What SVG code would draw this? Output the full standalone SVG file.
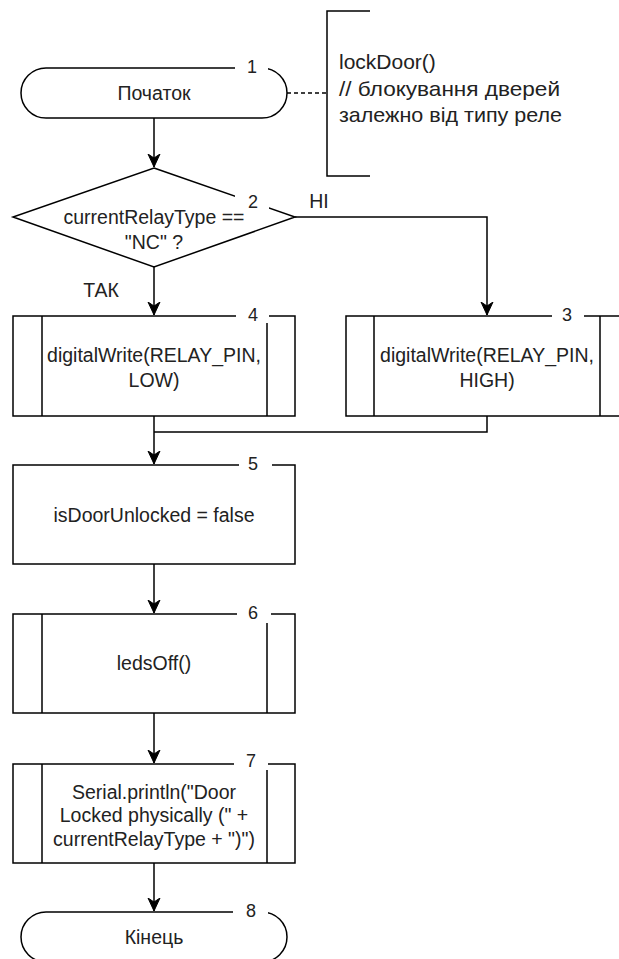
<svg xmlns="http://www.w3.org/2000/svg" width="619" height="959" viewBox="0 0 619 959">
<style>
.s{fill:#fff;stroke:#000;stroke-width:1.5}
.l{fill:none;stroke:#000;stroke-width:1.5}
.t{font-family:"Liberation Sans",Arial,sans-serif;font-size:19.5px;fill:#222;text-anchor:middle}
.a{font-family:"Liberation Sans",Arial,sans-serif;font-size:21px;fill:#222}
.n{font-family:"Liberation Sans",Arial,sans-serif;font-size:18px;fill:#222;text-anchor:middle}
.g{fill:#fff;stroke:none}
</style>
<defs>
<marker id="ar" viewBox="0 0 14 14" refX="13" refY="7" markerWidth="14" markerHeight="14" markerUnits="userSpaceOnUse" orient="auto">
<path d="M0,1 L13,7 L0,13 L4,7 Z" fill="#000" stroke="#000" stroke-width="1"/>
</marker>
</defs>
<rect width="619" height="959" fill="#fff"/>
<g id="connectors">
<path class="l" d="M154,118 V167" marker-end="url(#ar)"/>
<path class="l" d="M154,267 V315" marker-end="url(#ar)"/>
<path class="l" d="M295,217 H487 V315" marker-end="url(#ar)"/>
<path class="l" d="M154,416 V464" marker-end="url(#ar)"/>
<path class="l" d="M487,416 V432 H154"/>
<path class="l" d="M154,564 V613" marker-end="url(#ar)"/>
<path class="l" d="M154,713 V763" marker-end="url(#ar)"/>
<path class="l" d="M154,863 V911" marker-end="url(#ar)"/>
<path class="l" d="M287,93 H327" stroke-dasharray="4,3"/>
</g>
<g id="n1">
<rect class="s" x="21" y="68" width="266" height="50" rx="25" ry="25"/>
<rect class="g" x="235" y="56" width="33" height="20"/>
<text class="n" x="252" y="72.5">1</text>
<text class="t" x="154" y="100">Початок</text>
</g>
<g id="comment">
<path class="l" d="M370,11 H327 V176 H370"/>
<text class="a" x="339" y="68.5">lockDoor()</text>
<text class="a" x="339" y="95.5" textLength="221" lengthAdjust="spacingAndGlyphs">// блокування дверей</text>
<text class="a" x="339" y="121.5" textLength="223" lengthAdjust="spacingAndGlyphs">залежно від типу реле</text>
</g>
<g id="n2">
<path class="s" d="M154,168 L295,217 L154,267 L13,217 Z"/>
<rect class="g" x="235" y="189" width="34" height="21"/>
<text class="n" x="253" y="207.5">2</text>
<text class="t" x="154" y="224">currentRelayType ==</text>
<text class="t" x="154" y="249">"NC" ?</text>
</g>
<text class="t" x="319" y="208">НІ</text>
<text class="t" x="101" y="297">ТАК</text>
<g id="n4">
<rect class="s" x="13" y="316" width="282" height="100"/>
<path class="l" d="M42,316 V416 M267,316 V416"/>
<rect class="g" x="236" y="305" width="33" height="18"/>
<text class="n" x="253" y="320.5">4</text>
<text class="t" x="154" y="362">digitalWrite(RELAY_PIN,</text>
<text class="t" x="154" y="387">LOW)</text>
</g>
<g id="n3">
<rect class="s" x="346" y="316" width="282" height="100"/>
<path class="l" d="M374,316 V416 M600,316 V416"/>
<rect class="g" x="552" y="305" width="32" height="18"/>
<text class="n" x="567" y="320.5">3</text>
<text class="t" x="487" y="362">digitalWrite(RELAY_PIN,</text>
<text class="t" x="487" y="387">HIGH)</text>
</g>
<g id="n5">
<rect class="s" x="13" y="465" width="282" height="99"/>
<rect class="g" x="239" y="454" width="33" height="18"/>
<text class="n" x="253" y="469.5">5</text>
<text class="t" x="154" y="522">isDoorUnlocked = false</text>
</g>
<g id="n6">
<rect class="s" x="13" y="614" width="282" height="99"/>
<path class="l" d="M42,614 V713 M267,614 V713"/>
<rect class="g" x="237" y="603" width="34" height="20"/>
<text class="n" x="253" y="619">6</text>
<text class="t" x="154" y="670">ledsOff()</text>
</g>
<g id="n7">
<rect class="s" x="13" y="764" width="282" height="99"/>
<path class="l" d="M42,764 V863 M267,764 V863"/>
<rect class="g" x="234" y="752" width="34" height="18"/>
<text class="n" x="251" y="767">7</text>
<text class="t" x="154" y="799">Serial.println("Door</text>
<text class="t" x="154" y="822">Locked physically (" +</text>
<text class="t" x="154" y="846">currentRelayType + ")")</text>
</g>
<g id="n8">
<rect class="s" x="21" y="912" width="266" height="50" rx="25" ry="25"/>
<rect class="g" x="233" y="900" width="35" height="18"/>
<text class="n" x="251" y="917">8</text>
<text class="t" x="154" y="944">Кінець</text>
</g>
</svg>
